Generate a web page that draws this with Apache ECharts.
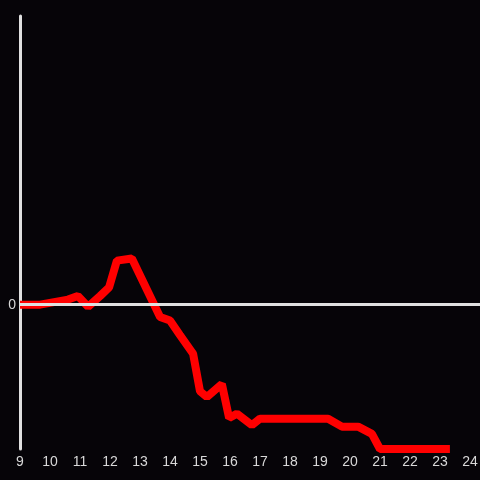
<!DOCTYPE html>
<html>
<head>
<meta charset="utf-8">
<script src="https://cdn.jsdelivr.net/npm/echarts@6/dist/echarts.min.js"></script>
<style>
  html, body { margin: 0; padding: 0; background: #060408; }
  #chart { width: 480px; height: 480px; }
</style>
</head>
<body>
<div id="chart"></div>
<script>
// hours of the day and values
var hours = [9.0, 9.67, 10.6, 10.93, 11.27, 11.67, 11.97, 12.23, 12.73, 13.67, 14.0, 14.33, 14.77,
  15.0, 15.23, 15.73, 15.97, 16.23, 16.73, 17.0, 19.27, 19.73, 20.27, 20.73, 21.0, 23.33];
var values = [0.0, 0.0, 0.035, 0.06, -0.015, 0.06, 0.12, 0.305, 0.32, -0.085, -0.11, -0.21, -0.34,
  -0.6, -0.64, -0.55, -0.785, -0.755, -0.835, -0.79, -0.79, -0.845, -0.845, -0.895, -1.0, -1.0];
var yTickLabels = ["0"];

var myChart = echarts.init(document.getElementById("chart"));
myChart.setOption({
  backgroundColor: "#060408",
  animation: false,
  grid: { left: 20, right: 0, top: 16, bottom: 31, outerBoundsMode: "none", containLabel: false },
  xAxis: {
    type: "value",
    min: 9,
    max: 24 + 1 / 3,
    interval: 1,
    axisLine: { show: false },
    axisTick: { show: false },
    splitLine: { show: false },
    axisLabel: {
      color: "#d8d8d8",
      fontSize: 14,
      margin: 6,
      showMaxLabel: true,
      formatter: function (v) {
        return Math.abs(v - Math.round(v)) < 1e-6 ? String(Math.round(v)) : "";
      }
    }
  },
  yAxis: {
    type: "value",
    min: -1,
    max: 2,
    interval: 1,
    axisLine: { show: true, onZero: false, lineStyle: { color: "#e0e0e0", width: 3 } },
    axisTick: { show: false },
    splitLine: { show: false },
    axisLabel: {
      color: "#d8d8d8",
      fontSize: 14,
      margin: 4,
      formatter: function (v) {
        return yTickLabels.indexOf(String(v)) >= 0 ? String(v) : "";
      }
    }
  },
  series: [
    {
      type: "line",
      data: hours.map(function (h, i) { return [h, values[i]]; }),
      symbol: "none",
      clip: false,
      lineStyle: { color: "#ff0000", width: 8 },
      markLine: {
        silent: true,
        symbol: "none",
        label: { show: false },
        lineStyle: { color: "#e0e0e0", width: 3, type: "solid" },
        data: [{ yAxis: 0 }]
      },
      z: 3
    }
  ]
});
</script>
</body>
</html>
